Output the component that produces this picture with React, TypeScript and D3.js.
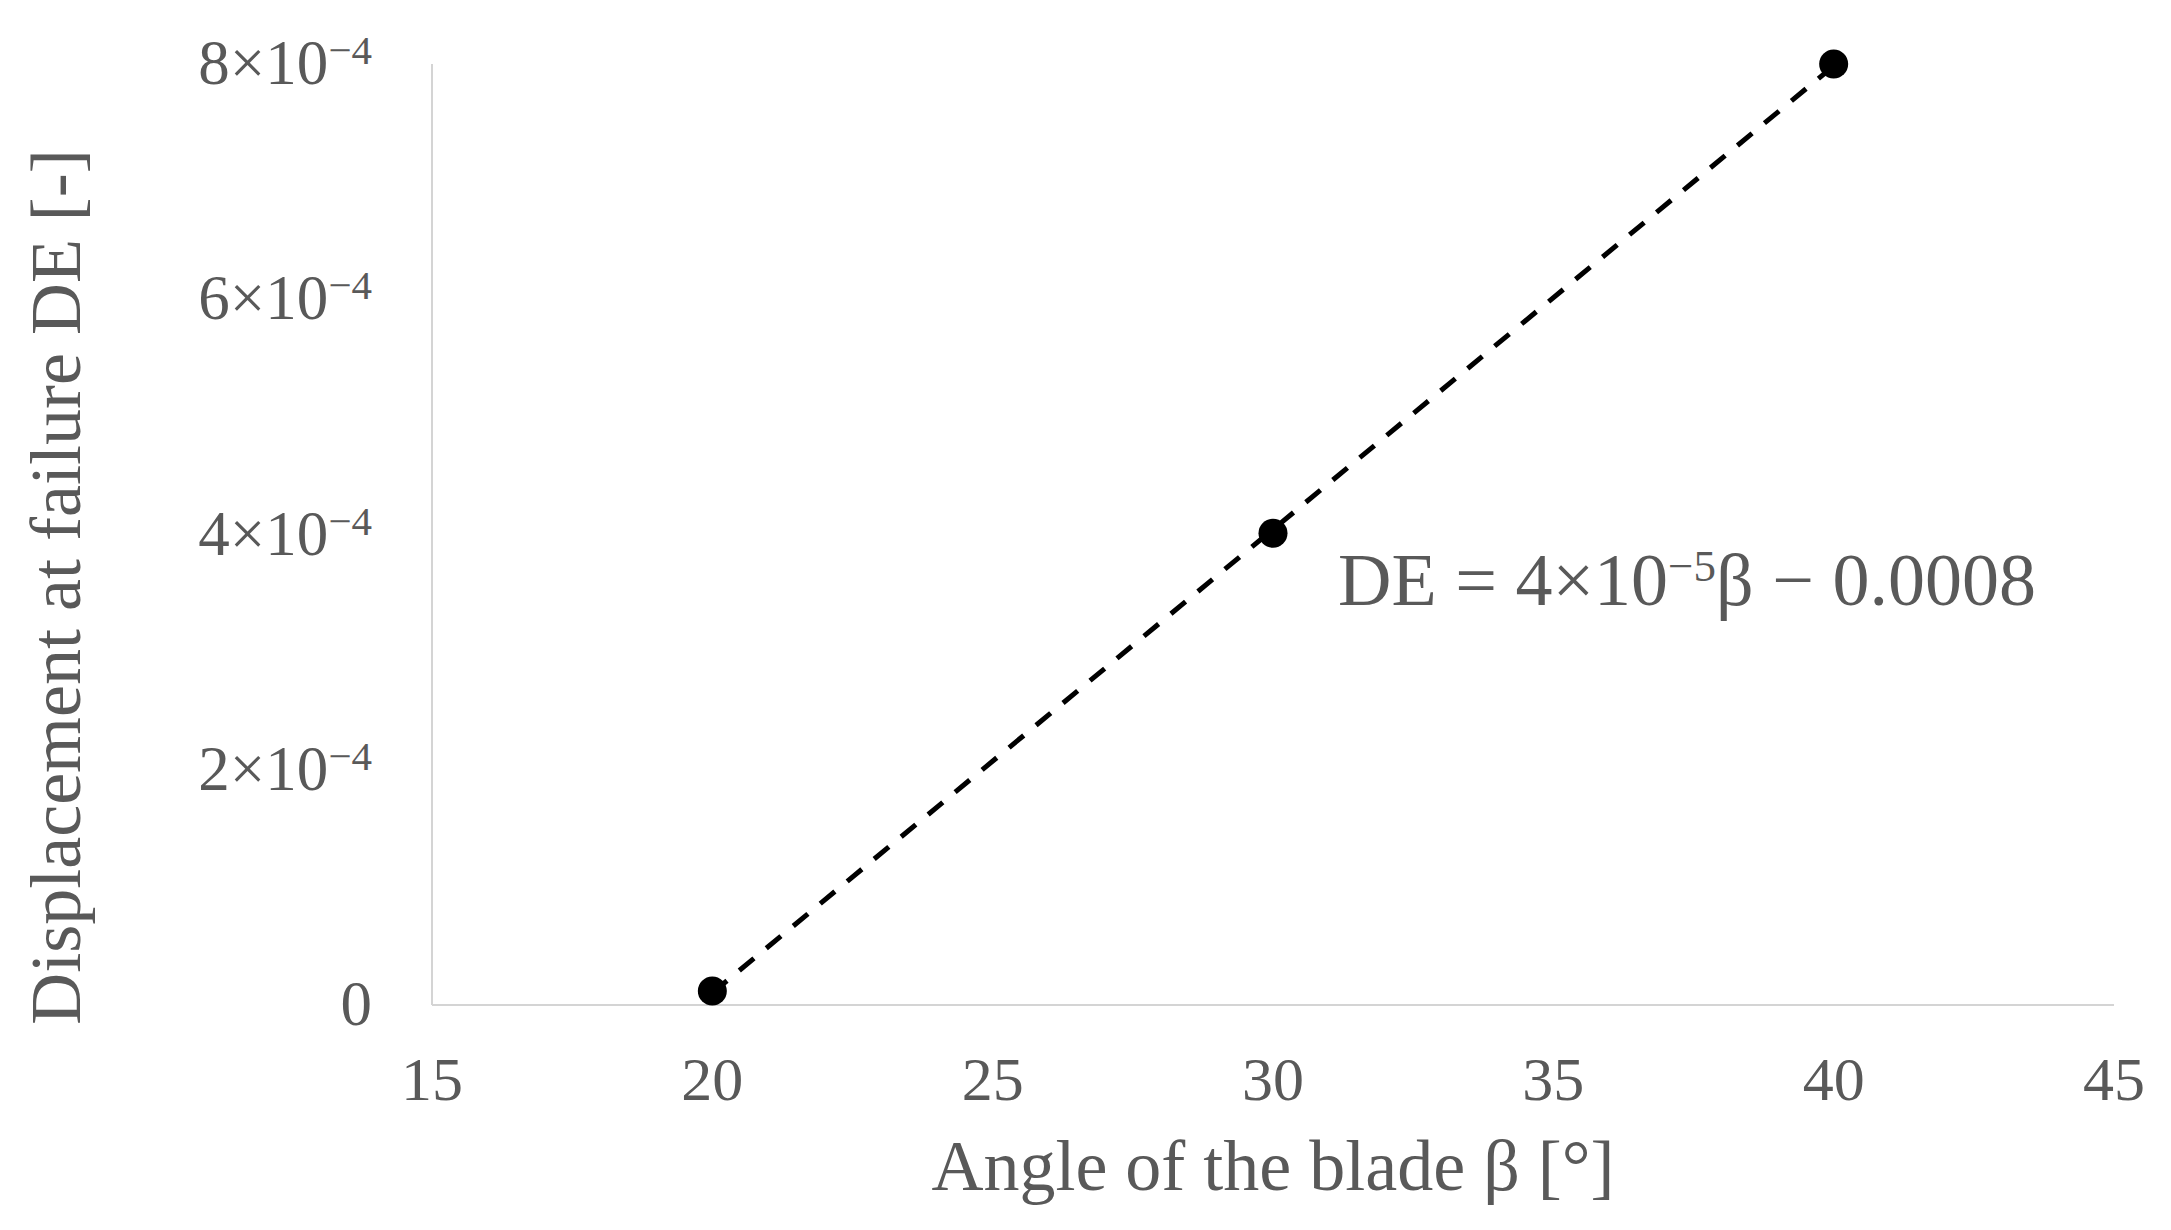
import * as d3 from "d3";

// blade angle β [°] and displacement at failure DE [-]
const angles = [20, 30, 40];
const displacement = [0.000012, 0.000401, 0.0008];

const xTicks = [15, 20, 25, 30, 35, 40, 45];
const yTicks = [0, 0.0002, 0.0004, 0.0006, 0.0008];

const xTitle = "Angle of the blade β [°]";
const yTitle = "Displacement at failure DE [-]";

const W = 2171;
const H = 1230;
const FONT = "'Liberation Serif', 'Times New Roman', serif";
const TEXT = "#595959";

export default function App() {
  const x = d3.scaleLinear().domain([15, 45]).range([432, 2114]);
  const y = d3.scaleLinear().domain([0, 0.0008]).range([1005, 64]);

  // linear trendline (least squares) through the points
  const mx = d3.mean(angles)!;
  const my = d3.mean(displacement)!;
  const sxy = d3.sum(angles, (a, i) => (a - mx) * (displacement[i] - my));
  const sxx = d3.sum(angles, (a) => (a - mx) ** 2);
  const slope = sxy / sxx;
  const icpt = my - slope * mx;
  const ext = d3.extent(angles) as [number, number];
  const trend = d3.line<number>()
    .x((a) => x(a))
    .y((a) => y(slope * a + icpt))(ext);

  return (
    <svg
      width={W}
      height={H}
      style={{ position: "absolute", left: 0, top: 0, background: "#fff" }}
      fontFamily={FONT}
    >
      {/* axes */}
      <line x1={x(15)} x2={x(15)} y1={y(0.0008)} y2={y(0)} stroke="#d4d4d4" strokeWidth={2} />
      <line x1={x(15)} x2={x(45)} y1={y(0)} y2={y(0)} stroke="#d4d4d4" strokeWidth={2} />

      {/* x tick labels */}
      {xTicks.map((t) => (
        <text key={t} x={x(t)} y={1100} fontSize={62} fill={TEXT} textAnchor="middle">
          {t}
        </text>
      ))}

      {/* y tick labels */}
      {yTicks.map((t) => {
        const m = Math.round(t / 1e-4);
        return (
          <text key={t} x={372} y={y(t) + 20} fontSize={63} fill={TEXT} textAnchor="end">
            {t === 0 ? (
              "0"
            ) : (
              <>
                {m + "×10"}
                <tspan dy={-20} fontSize={41}>−4</tspan>
              </>
            )}
          </text>
        );
      })}

      {/* trendline */}
      <path d={trend ?? ""} fill="none" stroke="#000" strokeWidth={5} strokeDasharray="19,16" />

      {/* points */}
      {angles.map((a, i) => (
        <circle key={a} cx={x(a)} cy={y(displacement[i])} r={14.5} fill="#000" />
      ))}

      {/* equation */}
      <text x={1338} y={605} fontSize={74} fill={TEXT}>
        DE = 4×10
        <tspan dy={-24} fontSize={45}>−5</tspan>
        <tspan dy={24}>β − 0.0008</tspan>
      </text>

      {/* axis titles */}
      <text x={x(30)} y={1190} fontSize={72} fill={TEXT} textAnchor="middle">
        {xTitle}
      </text>
      <text
        transform={`translate(80,587) rotate(-90)`}
        fontSize={72}
        fill={TEXT}
        textAnchor="middle"
      >
        {yTitle}
      </text>
    </svg>
  );
}
